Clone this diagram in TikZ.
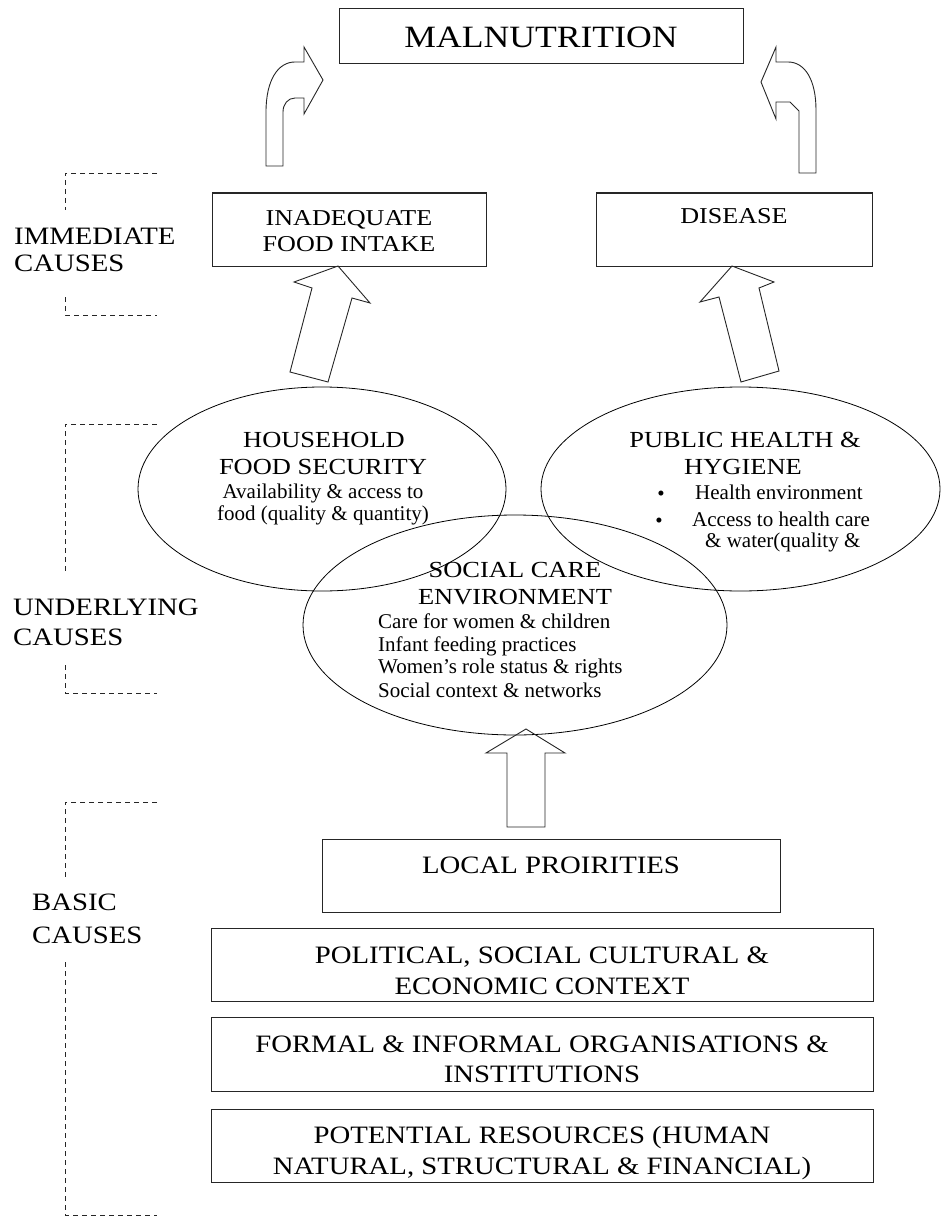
\documentclass[tikz,border=0pt]{standalone}
\usepackage{fontspec}
\setmainfont{Liberation Serif}
\newfontfamily\capsf{Liberation Serif}[FakeStretch=1.15]
\usetikzlibrary{shapes.geometric}
\begin{document}
\begin{tikzpicture}[x=1pt,y=-1pt,
  box/.style={draw=black!85, line width=1pt, rectangle, inner sep=0pt},
  oval/.style={draw=black, ellipse, line width=0.8pt, inner sep=0pt},
  blk/.style={draw=black!85, line width=0.9pt, line join=miter},
  brk/.style={draw=black!85, dash pattern=on 5pt off 4pt, line width=0.8pt},
  capXL/.style={inner sep=0pt, anchor=base, font=\capsf\fontsize{31}{31}\selectfont},
  capL/.style={inner sep=0pt, anchor=base, font=\capsf\fontsize{25}{25}\selectfont},
  capM/.style={inner sep=0pt, anchor=base, font=\capsf\fontsize{22.7}{22.7}\selectfont},
  capS/.style={inner sep=0pt, anchor=base, font=\capsf\fontsize{23}{23}\selectfont},
  txt/.style={inner sep=0pt, anchor=base, font=\fontsize{21}{21}\selectfont}
]
\useasboundingbox (0,0) rectangle (940,1217);

% ---------- boxes ----------
\node[box, minimum width=404pt, minimum height=55pt] (mal) at (541,36.5) {};
\node[capXL] (maltxt) at (541,48) {MALNUTRITION};

\node[box, minimum width=274pt, minimum height=73pt] (inad) at (349,229.5) {};
\node[capM] (inad1) at (349,225) {INADEQUATE};
\node[capM] (inad2) at (349,251) {FOOD INTAKE};

\node[box, minimum width=276pt, minimum height=73pt] (dis) at (734,229.5) {};
\node[capM] (distxt) at (734,223) {DISEASE};

\node[box, minimum width=458pt, minimum height=73pt] (loc) at (551,875.5) {};
\node[capL] (loctxt) at (551,873) {LOCAL PROIRITIES};

\node[box, minimum width=662pt, minimum height=73pt] (pol) at (542,964.5) {};
\node[capL] (pol1) at (542,963) {POLITICAL, SOCIAL CULTURAL \&};
\node[capL] (pol2) at (542,994) {ECONOMIC CONTEXT};

\node[box, minimum width=662pt, minimum height=74pt] (form) at (542,1054) {};
\node[capL] (form1) at (542,1052) {FORMAL \& INFORMAL ORGANISATIONS \&};
\node[capL] (form2) at (542,1082) {INSTITUTIONS};

\node[box, minimum width=662pt, minimum height=73pt] (pot) at (542,1145.5) {};
\node[capL] (pot1) at (542,1143) {POTENTIAL RESOURCES (HUMAN};
\node[capL] (pot2) at (542,1174) {NATURAL, STRUCTURAL \& FINANCIAL)};

% ---------- ellipses ----------
\node[oval, minimum width=368pt, minimum height=204pt] (hfs) at (322,489) {};
\node[oval, minimum width=399pt, minimum height=204pt] (phh) at (740.5,489) {};
\node[oval, minimum width=424pt, minimum height=220pt] (sce) at (515,625) {};

\node[capS] (hfs1) at (324,447) {HOUSEHOLD};
\node[capS] (hfs2) at (323,474) {FOOD SECURITY};
\node[txt] (hfs3) at (323,498) {Availability \& access to};
\node[txt] (hfs4) at (323,520) {food (quality \& quantity)};

\node[capS] (phh1) at (745,447) {PUBLIC HEALTH \&};
\node[capS] (phh2) at (743,474) {HYGIENE};
\node[txt] (phhb1) at (661,500) {•};
\node[txt, anchor=base west] (phh3) at (695,499) {Health environment};
\node[txt] (phhb2) at (659,527) {•};
\node[txt, anchor=base west] (phh4) at (692,526) {Access to health care};
\node[txt, anchor=base west] (phh5) at (705,547) {\& water(quality \&};

\node[capS] (sce1) at (515,577) {SOCIAL CARE};
\node[capS] (sce2) at (515,604) {ENVIRONMENT};
\node[txt, anchor=base west] (sce3) at (378,628) {Care for women \& children};
\node[txt, anchor=base west] (sce4) at (378,651) {Infant feeding practices};
\node[txt, anchor=base west] (sce5) at (378,673) {Women’s role status \& rights};
\node[txt, anchor=base west] (sce6) at (378,697) {Social context \& networks};

% ---------- side labels ----------
\node[capL, anchor=base west] (imm1) at (14,244) {IMMEDIATE};
\node[capL, anchor=base west] (imm2) at (14,271) {CAUSES};
\node[capL, anchor=base west] (und1) at (13,615) {UNDERLYING};
\node[capL, anchor=base west] (und2) at (13,645) {CAUSES};
\node[capL, anchor=base west] (bas1) at (32,910) {BASIC};
\node[capL, anchor=base west] (bas2) at (32,943) {CAUSES};

% ---------- dashed brackets ----------
\draw[brk] (157,173) -- (65,173) -- (65,210);
\draw[brk] (65,297) -- (65,315) -- (157,315);
\draw[brk] (157,424) -- (65,424) -- (65,572);
\draw[brk] (65,665) -- (65,693) -- (157,693);
\draw[brk] (157,802) -- (65,802) -- (65,877);
\draw[brk] (65,962) -- (65,1215) -- (157,1215);

% ---------- curved arrows to MALNUTRITION ----------
\draw[blk] (266,166) -- (266,112) .. controls (266,80) and (278,62) .. (295,62)
  -- (304,62) -- (304,47) -- (323,80) -- (304,114) -- (304,98) -- (295,98)
  .. controls (288,98) and (283,104) .. (283,112) -- (283,166) -- cycle;
\draw[blk] (816,173) -- (816,110) .. controls (816,80) and (805,62) .. (788,62)
  -- (776,62) -- (776,47) -- (761,82) -- (776,119) -- (776,102) -- (790,102)
  -- (799,111) -- (799,173) -- cycle;

% ---------- tilted block arrows ----------
\draw[blk] (338,266) -- (370,303) -- (352,298) -- (328,382) -- (290,372)
  -- (312,288) -- (294,282) -- cycle;
\draw[blk] (732,266) -- (774,282) -- (759,288) -- (779,371) -- (741,382)
  -- (719,297) -- (700,302) -- cycle;

% ---------- upward block arrow ----------
\draw[blk] (526,729) -- (565,753) -- (545,753) -- (545,827) -- (507,827)
  -- (507,753) -- (486,753) -- cycle;
\end{tikzpicture}
\end{document}
